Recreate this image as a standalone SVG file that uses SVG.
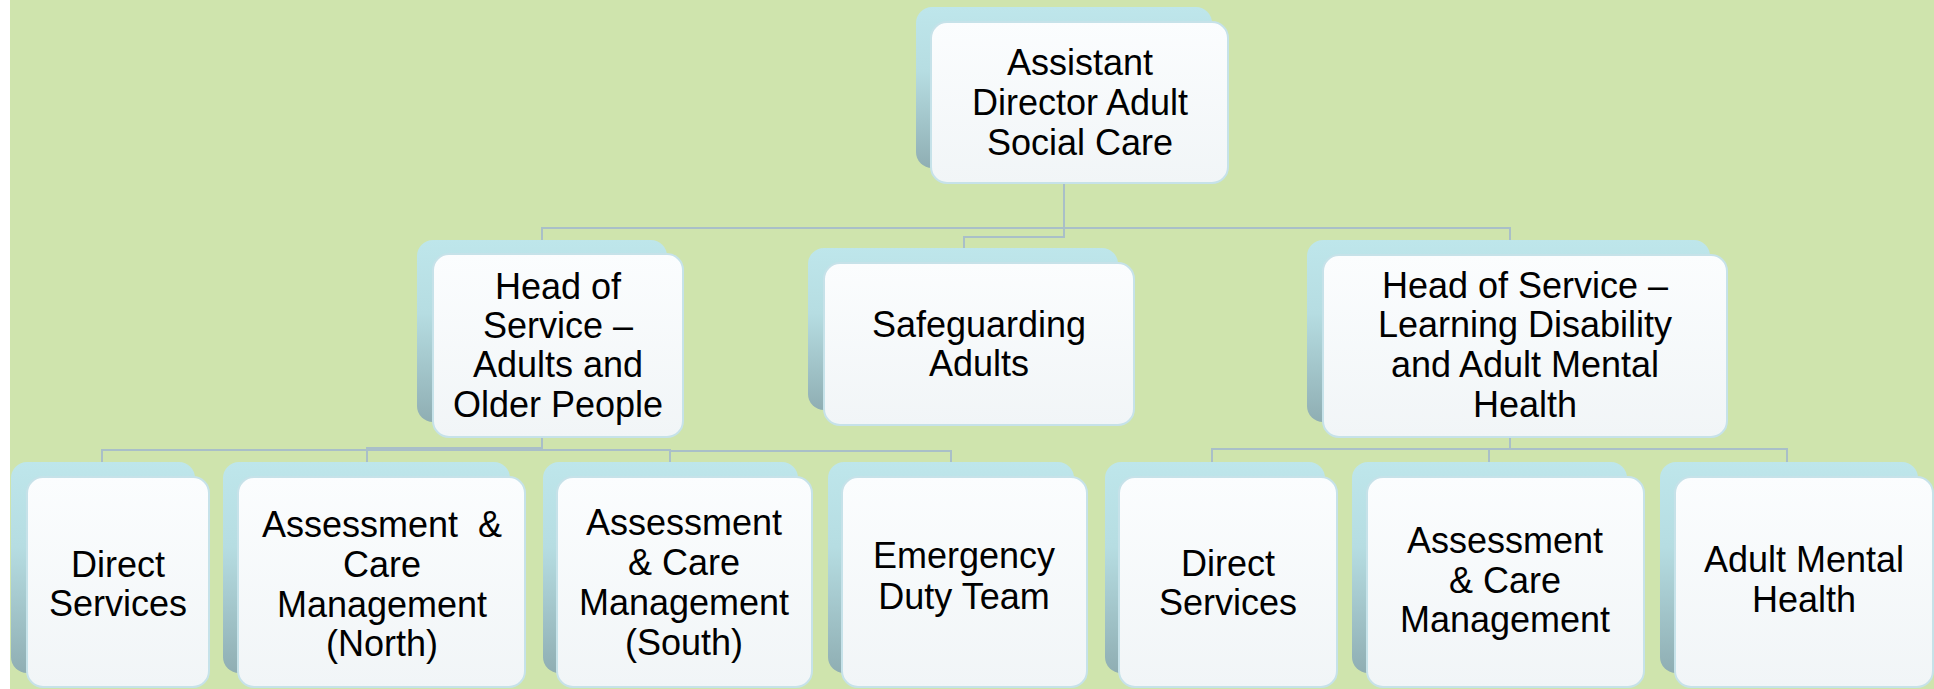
<svg xmlns="http://www.w3.org/2000/svg" width="1934" height="689" viewBox="0 0 1934 689">
<style>
.bk{fill:url(#gb);}
.fr{fill:url(#gf);stroke:#c6e2e9;stroke-width:2;}
.t{font-family:"Liberation Sans",Arial,sans-serif;font-size:36px;fill:#000;text-anchor:middle;}
.c{fill:none;stroke:#a9bfc8;stroke-width:2;}
</style>
<defs>
<linearGradient id="gb" x1="0" y1="0" x2="0" y2="1">
<stop offset="0" stop-color="#bee6eb"/>
<stop offset="0.4" stop-color="#b6dde2"/>
<stop offset="1" stop-color="#8faeb3"/>
</linearGradient>
<linearGradient id="gf" x1="0" y1="0" x2="0" y2="1">
<stop offset="0" stop-color="#fbfdfe"/>
<stop offset="1" stop-color="#f1f5f7"/>
</linearGradient>
</defs>
<rect x="0" y="0" width="1934" height="689" fill="#ffffff"/>
<rect x="10" y="0" width="1924" height="689" fill="#cfe4ad"/>

<g id="connectors">
<polyline class="c" points="1064,183 1064,228 542,228 542,240"/>
<polyline class="c" points="1064,228 1510,228 1510,240"/>
<polyline class="c" points="1064,228 1064,237 964,237 964,248"/>
<polyline class="c" points="542,437 542,450 102,450 102,462"/>
<polyline class="c" points="542,448 367,448 367,462"/>
<polyline class="c" points="542,450 670,450 670,462"/>
<polyline class="c" points="670,451 951,451 951,462"/>
<polyline class="c" points="1510,437 1510,449 1212,449 1212,462"/>
<polyline class="c" points="1510,449 1489,449 1489,462"/>
<polyline class="c" points="1510,449 1787,449 1787,462"/>
</g>

<g id="n-adasc">
<rect class="bk" x="916" y="7" width="296" height="161" rx="16"/>
<rect class="fr" x="931" y="22" width="297" height="161" rx="16"/>
<text class="t" x="1080" y="75">Assistant</text>
<text class="t" x="1080" y="115">Director Adult</text>
<text class="t" x="1080" y="155">Social Care</text>
</g>

<g id="n-hos-aop">
<rect class="bk" x="417" y="240" width="250" height="182" rx="16"/>
<rect class="fr" x="433" y="254" width="250" height="183" rx="16"/>
<text class="t" x="558" y="299">Head of</text>
<text class="t" x="558" y="338">Service –</text>
<text class="t" x="558" y="377">Adults and</text>
<text class="t" x="558" y="417">Older People</text>
</g>

<g id="n-safeguarding">
<rect class="bk" x="808" y="248" width="310" height="162" rx="16"/>
<rect class="fr" x="824" y="263" width="310" height="162" rx="16"/>
<text class="t" x="979" y="337">Safeguarding</text>
<text class="t" x="979" y="376">Adults</text>
</g>

<g id="n-hos-ld">
<rect class="bk" x="1307" y="240" width="403" height="182" rx="16"/>
<rect class="fr" x="1323" y="255" width="404" height="182" rx="16"/>
<text class="t" x="1525" y="298">Head of Service –</text>
<text class="t" x="1525" y="337">Learning Disability</text>
<text class="t" x="1525" y="377">and Adult Mental</text>
<text class="t" x="1525" y="417">Health</text>
</g>

<g id="n-direct-1">
<rect class="bk" x="11" y="462" width="184" height="211" rx="16"/>
<rect class="fr" x="27" y="477" width="182" height="210" rx="16"/>
<text class="t" x="118" y="577">Direct</text>
<text class="t" x="118" y="616">Services</text>
</g>

<g id="n-acm-north">
<rect class="bk" x="223" y="462" width="287" height="211" rx="16"/>
<rect class="fr" x="238" y="477" width="287" height="210" rx="16"/>
<text class="t" x="382" y="537" xml:space="preserve">Assessment  &amp;</text>
<text class="t" x="382" y="577">Care</text>
<text class="t" x="382" y="617">Management</text>
<text class="t" x="382" y="656">(North)</text>
</g>

<g id="n-acm-south">
<rect class="bk" x="543" y="462" width="255" height="211" rx="16"/>
<rect class="fr" x="557" y="477" width="255" height="210" rx="16"/>
<text class="t" x="684" y="535">Assessment</text>
<text class="t" x="684" y="575">&amp; Care</text>
<text class="t" x="684" y="615">Management</text>
<text class="t" x="684" y="655">(South)</text>
</g>

<g id="n-edt">
<rect class="bk" x="828" y="462" width="246" height="211" rx="16"/>
<rect class="fr" x="842" y="477" width="245" height="210" rx="16"/>
<text class="t" x="964" y="568">Emergency</text>
<text class="t" x="964" y="609">Duty Team</text>
</g>

<g id="n-direct-2">
<rect class="bk" x="1105" y="462" width="220" height="211" rx="16"/>
<rect class="fr" x="1119" y="477" width="218" height="210" rx="16"/>
<text class="t" x="1228" y="576">Direct</text>
<text class="t" x="1228" y="615">Services</text>
</g>

<g id="n-acm">
<rect class="bk" x="1352" y="462" width="275" height="211" rx="16"/>
<rect class="fr" x="1367" y="477" width="277" height="210" rx="16"/>
<text class="t" x="1505" y="553">Assessment</text>
<text class="t" x="1505" y="593">&amp; Care</text>
<text class="t" x="1505" y="632">Management</text>
</g>

<g id="n-amh">
<rect class="bk" x="1660" y="462" width="258" height="211" rx="16"/>
<rect class="fr" x="1675" y="477" width="258" height="210" rx="16"/>
<text class="t" x="1804" y="572">Adult Mental</text>
<text class="t" x="1804" y="612">Health</text>
</g>
</svg>
